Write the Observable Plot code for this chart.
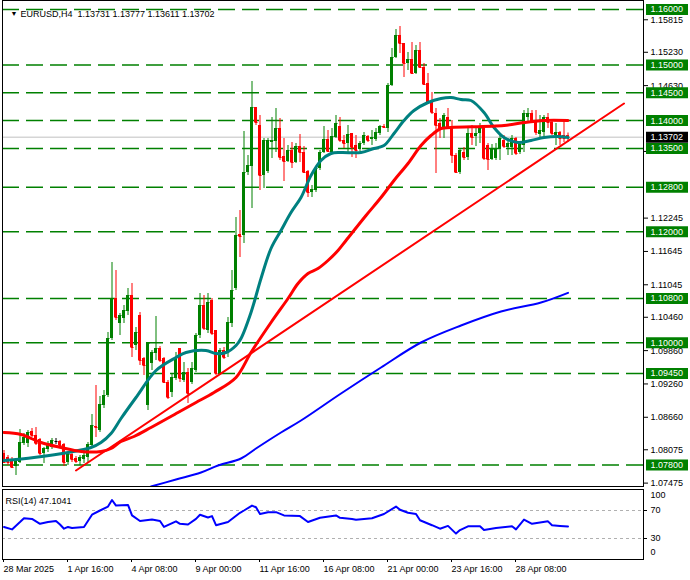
<!DOCTYPE html>
<html><head><meta charset="utf-8">
<script src="https://cdn.jsdelivr.net/npm/d3@7"></script>
<script src="https://cdn.jsdelivr.net/npm/@observablehq/plot@0.6"></script>
<style>
body{margin:0;background:#fff;}
#chart{position:relative;width:690px;height:580px;overflow:hidden;background:#fff;}
#chart svg{position:absolute;left:0;}
</style></head><body><div id="chart"></div>
<script>
const symbolName = "EURUSD";
const timeframe = "H4";
const opens = [1.08008,1.07936,1.07900,1.07774,1.07846,1.08188,1.08188,1.08404,1.08332,1.08260,1.08008,1.08080,1.08116,1.08224,1.08224,1.08170,1.07846,1.07990,1.07918,1.07864,1.07900,1.07936,1.08152,1.08494,1.08422,1.08872,1.09052,1.10078,1.10798,1.10348,1.10438,1.10564,1.10852,1.09952,1.10492,1.09718,1.08872,1.09628,1.09808,1.09898,1.09718,1.09286,1.09106,1.09358,1.09898,1.09322,1.09466,1.09286,1.09502,1.10132,1.10672,1.10222,1.10762,1.10222,1.09448,1.09862,1.09808,1.10348,1.10978,1.11950,1.11932,1.13066,1.13174,1.14236,1.13912,1.13012,1.13084,1.13606,1.13624,1.13858,1.13354,1.13264,1.13462,1.13246,1.13534,1.13426,1.13084,1.12706,1.12742,1.13138,1.13426,1.13660,1.13426,1.13696,1.13894,1.13642,1.13588,1.13768,1.13552,1.13480,1.13588,1.13714,1.13660,1.13660,1.13768,1.13894,1.13858,1.14632,1.15136,1.15532,1.15388,1.15028,1.15100,1.14848,1.15262,1.14956,1.14668,1.14326,1.14128,1.13948,1.13858,1.14056,1.13876,1.13372,1.13066,1.13426,1.13336,1.13768,1.13714,1.13768,1.13858,1.13552,1.13300,1.13318,1.13480,1.13642,1.13516,1.13516,1.13678,1.13426,1.13552,1.14056,1.14128,1.14002,1.13750,1.13786,1.14056,1.13966,1.13732,1.13786,1.13732,1.13731];
const highs = [1.08062,1.07972,1.07936,1.07918,1.08440,1.08368,1.08422,1.08458,1.08476,1.08278,1.08116,1.08224,1.08278,1.08278,1.08242,1.08188,1.08026,1.08026,1.07954,1.07972,1.08026,1.08206,1.08710,1.09232,1.09034,1.09142,1.10186,1.11446,1.11302,1.10528,1.10672,1.10978,1.11068,1.10276,1.10546,1.09736,1.09988,1.09862,1.10474,1.09934,1.09736,1.09322,1.09448,1.09826,1.09898,1.09646,1.09538,1.09646,1.10168,1.10888,1.10852,1.10888,1.10798,1.10222,1.09898,1.09916,1.10456,1.11302,1.12256,1.12382,1.13804,1.13372,1.14704,1.14236,1.14092,1.13678,1.13678,1.14056,1.14218,1.14038,1.13678,1.13552,1.13606,1.13588,1.13750,1.13534,1.13102,1.12832,1.13156,1.13462,1.13894,1.13822,1.13858,1.14092,1.14056,1.13732,1.13912,1.13768,1.13732,1.13624,1.13786,1.13732,1.13822,1.13858,1.13912,1.13930,1.14668,1.15298,1.15640,1.15694,1.15388,1.15226,1.15406,1.15352,1.15406,1.15028,1.14848,1.14506,1.14218,1.14038,1.14128,1.14218,1.14002,1.13408,1.13498,1.13516,1.13858,1.13912,1.13876,1.13948,1.13912,1.13588,1.13570,1.13588,1.13732,1.13732,1.13678,1.13732,1.13696,1.13588,1.14182,1.14218,1.14182,1.14182,1.14092,1.14092,1.14128,1.14020,1.13948,1.13804,1.14002,1.13777];
const lows = [1.07828,1.07792,1.07738,1.07612,1.07828,1.08152,1.08116,1.08296,1.08152,1.07972,1.07828,1.08026,1.08080,1.08170,1.08116,1.07774,1.07792,1.07846,1.07828,1.07792,1.07828,1.07828,1.08116,1.08296,1.08386,1.08818,1.09016,1.10042,1.10402,1.10132,1.10348,1.10492,1.09736,1.09862,1.09592,1.09412,1.08782,1.09502,1.09682,1.09646,1.09268,1.08980,1.09016,1.09322,1.09286,1.09286,1.08908,1.09250,1.09466,1.10078,1.10222,1.10168,1.10132,1.09412,1.09412,1.09700,1.09736,1.10276,1.10942,1.11536,1.11788,1.13012,1.12418,1.13912,1.12742,1.12778,1.13048,1.13318,1.13426,1.13282,1.12904,1.13246,1.13138,1.13228,1.13246,1.13048,1.12616,1.12616,1.12706,1.13102,1.13408,1.13426,1.13408,1.13678,1.13606,1.13498,1.13426,1.13336,1.13318,1.13444,1.13552,1.13606,1.13552,1.13624,1.13732,1.13858,1.13786,1.14614,1.15118,1.15208,1.14776,1.14902,1.14830,1.14830,1.14938,1.14632,1.14308,1.14110,1.13048,1.13678,1.13678,1.13858,1.13228,1.13048,1.13030,1.13282,1.13282,1.13552,1.13534,1.13588,1.13282,1.13102,1.13282,1.13282,1.13282,1.13498,1.13372,1.13372,1.13372,1.13390,1.13426,1.13966,1.13948,1.13732,1.13696,1.13696,1.13858,1.13732,1.13552,1.13552,1.13606,1.13611];
const closes = [1.07846,1.07846,1.07756,1.07882,1.08206,1.08296,1.08386,1.08332,1.08188,1.08008,1.08098,1.08188,1.08242,1.08224,1.08152,1.07846,1.07990,1.07900,1.07864,1.07936,1.07972,1.08170,1.08512,1.08476,1.08890,1.09052,1.10078,1.10798,1.10456,1.10492,1.10582,1.10852,1.09916,1.10186,1.09682,1.09592,1.09988,1.09826,1.09898,1.09682,1.09286,1.09016,1.09376,1.09736,1.09358,1.09466,1.09088,1.09538,1.10132,1.10672,1.10258,1.10726,1.10168,1.09448,1.09862,1.09736,1.10366,1.10942,1.11932,1.11914,1.13066,1.13192,1.14236,1.13966,1.13012,1.13642,1.13642,1.13642,1.13858,1.13336,1.13264,1.13462,1.13246,1.13534,1.13426,1.13066,1.12706,1.12760,1.13138,1.13426,1.13660,1.13444,1.13714,1.13948,1.13642,1.13588,1.13750,1.13516,1.13462,1.13588,1.13732,1.13642,1.13696,1.13786,1.13894,1.13876,1.14632,1.15136,1.15532,1.15388,1.15028,1.15100,1.14848,1.15262,1.14956,1.14650,1.14326,1.14146,1.13912,1.13858,1.14092,1.13876,1.13372,1.13066,1.13462,1.13336,1.13768,1.13696,1.13768,1.13858,1.13318,1.13300,1.13480,1.13498,1.13678,1.13534,1.13588,1.13678,1.13408,1.13570,1.14128,1.14128,1.13966,1.13786,1.13822,1.14056,1.13966,1.13768,1.13786,1.13678,1.13678,1.13702];

const tealIdx = [0,7.5,16,21.75,24.25,26.75,29.25,33,38,43,45.5,50.5,53,55.5,58,59.25,61.75,64.25,66.75,69.25,71.75,74.25,76.75,79.25,81.75,84.25,89.25,92.5,95,97.5,100,102.5,106,109.25,111.75,114.25,116.75,120,122.5,125,128.5,131.75,135,138.5,141];
const tealVal = [1.07882,1.07936,1.08026,1.08116,1.08206,1.08368,1.08638,1.09016,1.09502,1.09736,1.09826,1.09862,1.09808,1.09826,1.09952,1.10078,1.10546,1.11158,1.11698,1.12022,1.12346,1.12616,1.13012,1.13282,1.13408,1.13426,1.13426,1.13498,1.13552,1.13768,1.14002,1.14182,1.14326,1.14398,1.14416,1.14380,1.14362,1.14146,1.13876,1.13696,1.13606,1.13642,1.13696,1.13714,1.13696];
const redIdx = [0,4.25,9.25,14.25,19.25,24.25,26.75,29.25,32.5,36.75,43.5,48,52.5,58,61.75,66.75,71,73.5,76,78.5,81,83.5,85.5,90.5,94.25,97.5,101,104.25,106.75,109.25,111.75,125,130,135,141];
const redVal = [1.08386,1.08350,1.08206,1.08116,1.08044,1.08044,1.08098,1.08224,1.08314,1.08476,1.08746,1.08926,1.09106,1.09376,1.09826,1.10366,1.10798,1.11068,1.11248,1.11338,1.11482,1.11662,1.11842,1.12292,1.12616,1.12922,1.13228,1.13552,1.13732,1.13858,1.13876,1.13912,1.13966,1.14002,1.14002];
const blueIdx = [36.75,43,49.25,53.5,59.25,63,69.25,74.25,84.25,94.25,104.25,114.25,124.25,134.25,141];
const blueVal = [1.07414,1.07540,1.07666,1.07792,1.07918,1.08098,1.08386,1.08602,1.09088,1.09556,1.10006,1.10312,1.10564,1.10726,1.10900];
const trendIdx = [18,155];
const trendVal = [1.07702,1.14308];

const levels = [1.16,1.15,1.145,1.14,1.135,1.128,1.12,1.108,1.10,1.0945,1.078];
const priceTicks = [1.15815,1.15230,1.14630,1.13445,1.12245,1.11645,1.11045,1.10460,1.09860,1.09260,1.08660,1.08075,1.07475];

const rsiIdx = [0,2,4,5,7,9,11,13,14,15,16,17,20,22,24,26,27,28,31,32,34,37,39,40,43,44,46,48,49,51,52,53,56,59,60,62,63,64,66,68,70,74,76,79,83,84,87,88,92,95,98,99,101,103,104,107,109,111,113,114,116,119,120,123,127,128,130,132,136,137,139,141];
const rsiVal = [46.5,43,53.5,59,58,51,53.5,55,50,44,46.5,45,46.5,64,70,75.6,85,77,78,63,55,57,55,46.5,54.5,51,50,58,64,60,62,49,53.5,66.7,70,77,74.6,65,67.6,67.6,63,62,53.5,59.6,63,59.6,58,56.8,59,65,75.6,71,66.7,65,56,49,44,48,37,42,47.4,47.4,42,45,47.4,43,57,51,54.5,49,48,47.1041];
const rsiLevels = [70,30];

const timeTickIdx = [0,16,32,48,64,80,96,112,128];
const timeTickLabels = ["28 Mar 2025","1 Apr 16:00","4 Apr 08:00","9 Apr 00:00","11 Apr 16:00","16 Apr 08:00","21 Apr 00:00","23 Apr 16:00","28 Apr 08:00"];

// ---- build
const candles = opens.map((o, i) => ({i, o, h: highs[i], l: lows[i], c: closes[i]}));
const last = candles[candles.length - 1];
const bid = last.c;
const colorOf = d => d.c > d.o ? "#008000" : d.c < d.o ? "#ff0000" : "#000000";
const pts = (xs, ys) => xs.map((x, k) => ({x, y: ys[k]}));
const f5 = v => v.toFixed(5);
const FONT = "'Liberation Sans', Arial, sans-serif";
const xDomain = [-0.375, 159.875];
const yDomain = [1.07414, 1.16162];
const boxSym = {draw(ctx) { ctx.rect(-21, -5.5, 42, 11); }};

const main = Plot.plot({
  width: 690, height: 488,
  marginLeft: 2, marginRight: 47, marginTop: 0, marginBottom: 2,
  style: {fontFamily: FONT, fontSize: "9px", color: "black", background: "transparent", overflow: "visible"},
  x: {domain: xDomain, axis: null},
  y: {domain: yDomain, axis: null},
  marks: [
    Plot.text(["\u25BC"], {frameAnchor: "top-left", dx: 8, dy: 10.5, fontSize: 7, fill: "black"}),
    Plot.text([`${symbolName},${timeframe}  ${f5(last.o)} ${f5(last.h)} ${f5(last.l)} ${f5(last.c)}`],
      {frameAnchor: "top-left", dx: 18, dy: 10.5, textAnchor: "start", fontSize: 9, fill: "black"}),
    Plot.axisY(priceTicks, {anchor: "right", tickSize: 4, tickPadding: 3, tickFormat: f5, fontSize: 9, label: null}),
    Plot.ruleY(levels, {y: d => d, stroke: "#008000", strokeWidth: 1.5, strokeDasharray: "17,7"}),
    Plot.ruleY([bid], {y: d => d, stroke: "#c0c0c0", strokeWidth: 1}),
    Plot.ruleX(candles, {x: "i", y1: "l", y2: "h", stroke: colorOf, strokeWidth: 1}),
    Plot.rect(candles, {x1: d => d.i - 0.375, x2: d => d.i + 0.375, y1: "o", y2: "c", fill: colorOf}),
    Plot.link(candles, {x1: d => d.i - 0.375, x2: d => d.i + 0.375, y1: "c", y2: "c", stroke: colorOf, strokeWidth: 1}),
    Plot.line(pts(blueIdx, blueVal), {x: "x", y: "y", stroke: "#0000ff", strokeWidth: 2, curve: "catmull-rom", clip: true}),
    Plot.line(pts(tealIdx, tealVal), {x: "x", y: "y", stroke: "#008080", strokeWidth: 3, curve: "catmull-rom"}),
    Plot.line(pts(redIdx, redVal), {x: "x", y: "y", stroke: "#ff0000", strokeWidth: 3, curve: "catmull-rom"}),
    Plot.line(pts(trendIdx, trendVal), {x: "x", y: "y", stroke: "#ff0000", strokeWidth: 2}),
    Plot.frame({stroke: "black"}),
    Plot.dot(levels, {y: d => d, frameAnchor: "right", dx: 23.5, symbol: boxSym, fill: "#008000", stroke: "none"}),
    Plot.text(levels, {y: d => d, frameAnchor: "right", dx: 7, textAnchor: "start", fill: "white", text: f5, fontSize: 9}),
    Plot.dot([bid], {y: d => d, frameAnchor: "right", dx: 23.5, symbol: boxSym, fill: "black", stroke: "none"}),
    Plot.text([bid], {y: d => d, frameAnchor: "right", dx: 7, textAnchor: "start", fill: "white", text: f5, fontSize: 9})
  ]
});
main.style.top = "0px";

const rsiLast = rsiVal[rsiVal.length - 1];
const rsi = Plot.plot({
  width: 690, height: 93,
  marginLeft: 2, marginRight: 47, marginTop: 2, marginBottom: 21,
  style: {fontFamily: FONT, fontSize: "9px", color: "black", background: "transparent", overflow: "visible"},
  x: {domain: xDomain, axis: null},
  y: {domain: [0, 100], axis: null},
  marks: [
    Plot.ruleY(rsiLevels, {y: d => d, stroke: "#b0b0b0", strokeDasharray: "3,3"}),
    Plot.line(pts(rsiIdx, rsiVal), {x: "x", y: "y", stroke: "#0000ff", strokeWidth: 2}),
    Plot.text([`RSI(14) ${rsiLast.toFixed(4)}`], {frameAnchor: "top-left", dx: 3, dy: 8, textAnchor: "start", fontSize: 9, fill: "black"}),
    Plot.frame({stroke: "black"}),
    Plot.axisY(rsiLevels, {anchor: "right", tickSize: 3, tickPadding: 4, fontSize: 9, label: null}),
    Plot.text([100], {y: d => d, frameAnchor: "right", dx: 7, dy: 6, textAnchor: "start", text: d => String(d), fontSize: 9}),
    Plot.text([0], {y: d => d, frameAnchor: "right", dx: 7, dy: -7, textAnchor: "start", text: d => String(d), fontSize: 9}),
    Plot.axisX(timeTickIdx, {anchor: "bottom", tickSize: 3, tickPadding: 3, textAnchor: "start", dx: -0.5, fontSize: 9, label: null,
      tickFormat: d => timeTickLabels[timeTickIdx.indexOf(d)]})
  ]
});
rsi.style.top = "487px";

const host = document.getElementById("chart");
host.appendChild(main);
host.appendChild(rsi);
</script>
</body></html>
